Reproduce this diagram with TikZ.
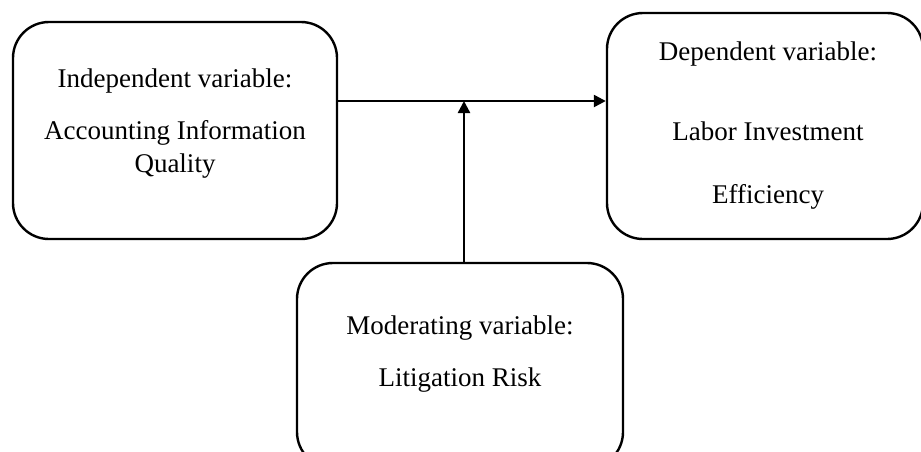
\documentclass[tikz,border=0pt]{standalone}
\usepackage{fontspec}
\setmainfont{Liberation Serif}
\usetikzlibrary{arrows.meta}
\begin{document}
\begin{tikzpicture}[x=1pt,y=-1pt,
  box/.style={draw=black, line width=2.4pt, rounded corners=36pt, inner sep=0pt},
  txt/.style={anchor=base, inner sep=0pt, font=\fontsize{27}{32}\selectfont},
  conn/.style={line width=2.4pt, -{Triangle[length=12pt,width=12pt]}}]
\useasboundingbox (0,0) rectangle (921,451);
\node[box, minimum width=324pt, minimum height=217pt] (ind) at (175,130.5) {};
\node[box, minimum width=316pt, minimum height=226pt] (dep) at (765,126) {};
\node[box, minimum width=326pt, minimum height=205pt] (mod) at (460,365.5) {};
\node[txt] (ind1) at (175,87) {Independent variable:};
\node[txt] (ind2) at (175,139) {Accounting Information};
\node[txt] (ind3) at (175,172) {Quality};
\node[txt] (dep1) at (768,60) {Dependent variable:};
\node[txt] (dep2) at (768,140) {Labor Investment};
\node[txt] (dep3) at (768,203) {Efficiency};
\node[txt] (mod1) at (460,334) {Moderating variable:};
\node[txt] (mod2) at (460,386) {Litigation Risk};
\coordinate (join) at (464,101);
\draw[conn] (ind.east |- join) -- (dep.west |- join);
\draw[conn] (mod.north -| join) -- (join);
\end{tikzpicture}
\end{document}
